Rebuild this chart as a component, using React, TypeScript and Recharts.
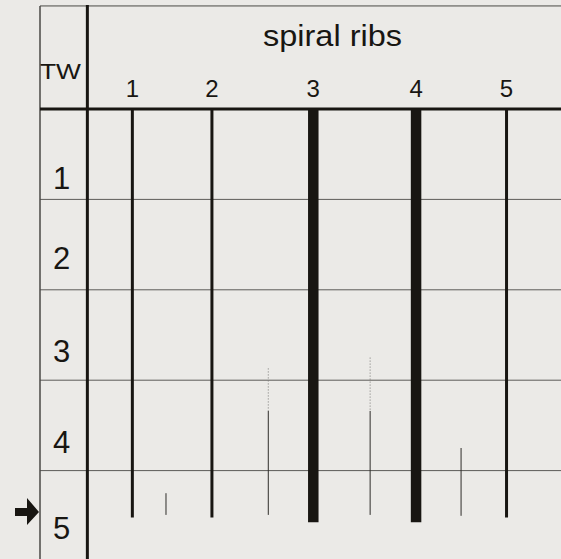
import React from 'react';
import { ComposedChart, Line, XAxis, YAxis, ReferenceLine } from 'recharts';

// spiral ribs (primary), position across the panel and where each one stops (in TW)
const RIB_LABELS = ['1', '2', '3', '4', '5'];
const RIB_X = [9.5, 26.3, 47.7, 69.4, 88.5];
const RIB_END_TW = [4.52, 4.52, 4.57, 4.57, 4.52];
const RIB_STRONG = [false, false, true, true, false];

// intercalated ribs: faint (dotted) onset, then the solid part
const INTER_X = [16.6, 38.2, 59.7, 78.9];
const INTER_FAINT_FROM_TW: (number | null)[] = [null, 2.87, 2.75, null];
const INTER_FROM_TW = [4.25, 3.34, 3.34, 3.75];
const INTER_TO_TW = [4.49, 4.49, 4.49, 4.5];

// teleoconch whorls
const TW_LABELS = ['1', '2', '3', '4', '5'];
const TW_LABEL_AT = [0.76, 1.65, 2.68, 3.68, 4.64];
const TW_BOUNDS = [1, 2, 3, 4];

const X_MIN = -10;
const X_MAX = 100;
const HEADER_TOP_TW = -1.14;

const INK = '#181612';
const FONT = '"Liberation Sans", Arial, Helvetica, sans-serif';

export default function App() {
  const ribs = RIB_X.map((x, i) => ({
    key: `rib-${i}`,
    strong: RIB_STRONG[i],
    data: [{ x, tw: 0 }, { x, tw: RIB_END_TW[i] }],
  }));

  const faint = INTER_X.flatMap((x, i) => {
    const from = INTER_FAINT_FROM_TW[i];
    return from == null ? [] : [{ key: `faint-${i}`, data: [{ x, tw: from }, { x, tw: INTER_FROM_TW[i] }] }];
  });

  const inter = INTER_X.map((x, i) => ({
    key: `inter-${i}`,
    data: [{ x, tw: INTER_FROM_TW[i] }, { x, tw: INTER_TO_TW[i] }],
  }));

  return (
    <div style={{ position: 'absolute', left: 0, top: 0, width: 561, height: 559, background: '#ebeae7', fontFamily: FONT, overflow: 'hidden' }}>
      <ComposedChart width={561} height={559} margin={{ top: 6, right: 0, left: 40, bottom: -2 }}>
        <XAxis
          dataKey="x"
          type="number"
          orientation="top"
          domain={[X_MIN, X_MAX]}
          ticks={RIB_X}
          tickFormatter={(v: number) => RIB_LABELS[RIB_X.indexOf(v)]}
          height={103}
          tickLine={false}
          tickSize={0}
          tickMargin={12}
          axisLine={{ stroke: INK, strokeWidth: 3 }}
          tick={{ fontSize: 24, fill: INK }}
          allowDataOverflow
        />
        <YAxis
          type="number"
          domain={[0, 5]}
          reversed
          mirror
          width={2}
          ticks={TW_LABEL_AT}
          interval={0}
          tickFormatter={(v: number) => TW_LABELS[TW_LABEL_AT.indexOf(v)]}
          tickLine={false}
          tickSize={0}
          tickMargin={13}
          axisLine={false}
          tick={{ fontSize: 31, fill: INK }}
          allowDataOverflow
        />

        {TW_BOUNDS.map((tw) => (
          <ReferenceLine key={`row-${tw}`} y={tw} stroke="#5c5b58" strokeWidth={1} />
        ))}

        {/* frame of the table */}
        <ReferenceLine
          segment={[{ x: X_MIN, y: HEADER_TOP_TW }, { x: X_MAX, y: HEADER_TOP_TW }]}
          stroke="#4a4946"
          strokeWidth={1}
          ifOverflow="visible"
        />
        <ReferenceLine
          segment={[{ x: X_MIN, y: HEADER_TOP_TW }, { x: X_MIN, y: 5 }]}
          stroke="#4a4946"
          strokeWidth={1.5}
          ifOverflow="visible"
        />
        <ReferenceLine
          segment={[{ x: 0, y: HEADER_TOP_TW - 0.01 }, { x: 0, y: 5 }]}
          stroke={INK}
          strokeWidth={3}
          ifOverflow="visible"
        />

        {ribs.map((r) => (
          <Line
            key={r.key}
            data={r.data}
            dataKey="tw"
            type="linear"
            stroke={INK}
            strokeWidth={r.strong ? 10.5 : 3}
            dot={false}
            activeDot={false}
            legendType="none"
            isAnimationActive={false}
          />
        ))}
        {faint.map((r) => (
          <Line
            key={r.key}
            data={r.data}
            dataKey="tw"
            type="linear"
            stroke="#7a7976"
            strokeWidth={1}
            strokeDasharray="1 2"
            dot={false}
            activeDot={false}
            legendType="none"
            isAnimationActive={false}
          />
        ))}
        {inter.map((r) => (
          <Line
            key={r.key}
            data={r.data}
            dataKey="tw"
            type="linear"
            stroke="#2e2d2a"
            strokeWidth={1}
            dot={false}
            activeDot={false}
            legendType="none"
            isAnimationActive={false}
          />
        ))}
      </ComposedChart>

      <svg width={561} height={559} style={{ position: 'absolute', left: 0, top: 0, pointerEvents: 'none' }}>
        <text x={332.5} y={46} textAnchor="middle" fontSize={29} fill={INK} textLength={139} lengthAdjust="spacingAndGlyphs">
          spiral ribs
        </text>
        <text x={40} y={79} fontSize={22.5} fill={INK} textLength={41} lengthAdjust="spacingAndGlyphs">
          TW
        </text>
        <polygon points="15,508 27,508 27,498 39,512 27,525 27,516 15,516" fill={INK} />
      </svg>
    </div>
  );
}
